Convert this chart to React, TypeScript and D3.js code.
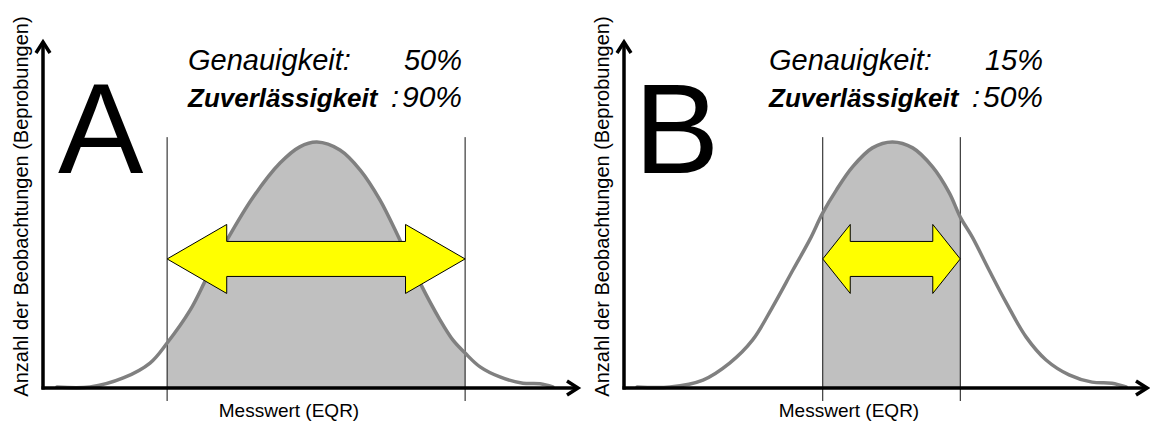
import * as d3 from "d3";
import { useMemo } from "react";

const width = 1150;
const height = 431;

// Messwert (abstract units 0..10) and Anzahl (abstract units 0..10)
const curveAx = [0.26, 0.88, 1.5, 2.0, 2.32, 2.75, 3.07, 3.44, 3.93, 4.43, 4.8, 5.12, 5.55, 5.93, 6.3, 6.67, 7.05, 7.42, 7.66, 7.89, 8.17, 8.54, 8.97, 9.29, 9.53];
const curveAy = [0.03, 0.03, 0.29, 0.72, 1.3, 2.25, 3.21, 4.28, 5.52, 6.5, 6.97, 7.11, 6.88, 6.3, 5.43, 4.28, 3.03, 1.97, 1.39, 1.01, 0.61, 0.32, 0.14, 0.12, 0.03];

const curveBx = [0.25, 0.88, 1.51, 2.02, 2.46, 2.84, 3.23, 3.55, 3.8, 4.06, 4.37, 4.75, 5.13, 5.52, 5.9, 6.22, 6.43, 6.66, 6.98, 7.31, 7.69, 8.07, 8.51, 8.95, 9.33, 9.6];
const curveBy = [0.03, 0.03, 0.23, 0.72, 1.39, 2.34, 3.41, 4.28, 5.06, 5.72, 6.39, 6.94, 7.11, 6.94, 6.39, 5.64, 4.94, 4.36, 3.41, 2.46, 1.47, 0.81, 0.38, 0.17, 0.14, 0.03];

const intervalA = [2.32, 7.89];
const intervalB = [3.8, 6.43];

const letters = ["A", "B"];
const genauigkeit = ["50%", "15%"];
const zuverlaessigkeit = ["90%", "50%"];
const arrowLevel = 3.73;
const lineTop = 7.25;

const yLabel = "Anzahl der Beobachtungen (Beprobungen)";
const xLabel = "Messwert (EQR)";

const font = "'Liberation Sans', Arial, Helvetica, sans-serif";

interface PanelProps {
  id: string;
  letter: string;
  xs: number[];
  ys: number[];
  interval: number[];
  gen: string;
  zuv: string;
  x0: number;
  x1: number;
  labelX: number;
}

const Panel = ({ id, letter, xs, ys, interval, gen, zuv, x0, x1, labelX }: PanelProps) => {
  const pts = useMemo(() => xs.map((x, i) => [x, ys[i]] as [number, number]), [xs, ys]);

  const x = d3.scaleLinear().domain([0, 10]).range([x0, x1]);
  const y = d3.scaleLinear().domain([0, 10]).range([388, 42]);

  const line = d3
    .line<[number, number]>()
    .x((d) => x(d[0]))
    .y((d) => y(d[1]))
    .curve(d3.curveCatmullRom);

  const area = d3
    .area<[number, number]>()
    .x((d) => x(d[0]))
    .y0(y(0))
    .y1((d) => y(d[1]))
    .curve(d3.curveCatmullRom);

  const xl = x(interval[0]);
  const xr = x(interval[1]);
  const yc = y(arrowLevel);
  const head = 0.2 * (xr - xl);
  const hh = 34.5;
  const sh = 17.5;
  const arrow = [
    [xl, yc],
    [xl + head, yc - hh],
    [xl + head, yc - sh],
    [xr - head, yc - sh],
    [xr - head, yc - hh],
    [xr, yc],
    [xr - head, yc + hh],
    [xr - head, yc + sh],
    [xl + head, yc + sh],
    [xl + head, yc + hh],
  ];
  const arrowPath = "M" + arrow.map((p) => p.join(",")).join("L") + "Z";

  const axisY = y(0);
  const axisTop = y(10);

  return (
    <g>
      <defs>
        <clipPath id={`clip-${id}`}>
          <rect x={xl} y={0} width={xr - xl} height={height} />
        </clipPath>
      </defs>

      <path d={area(pts) as string} fill="#c0c0c0" clipPath={`url(#clip-${id})`} />

      {interval.map((v, i) => (
        <line
          key={i}
          x1={x(v)}
          x2={x(v)}
          y1={y(lineTop)}
          y2={axisY + 13}
          stroke="#111"
          strokeWidth={1}
        />
      ))}

      <path d={line(pts) as string} fill="none" stroke="#808080" strokeWidth={3.5} strokeLinejoin="round" strokeLinecap="round" />

      {/* axes */}
      <line x1={x0} x2={x0} y1={axisY + 1.5} y2={axisTop} stroke="#000" strokeWidth={3.5} />
      <polyline
        points={`${x0 - 7},${axisTop + 11} ${x0},${axisTop} ${x0 + 7},${axisTop + 11}`}
        fill="none"
        stroke="#000"
        strokeWidth={3.5}
      />
      <line x1={x0 - 1.5} x2={x1} y1={axisY} y2={axisY} stroke="#000" strokeWidth={3.5} />
      <polyline
        points={`${x1 - 11},${axisY - 7} ${x1},${axisY} ${x1 - 11},${axisY + 7}`}
        fill="none"
        stroke="#000"
        strokeWidth={3.5}
      />

      <path d={arrowPath} fill="#ffff00" stroke="#000" strokeWidth={1} strokeLinejoin="miter" />

      <text
        transform={`translate(${x0 - 15},206.5) rotate(-90)`}
        textAnchor="middle"
        fontFamily={font}
        fontSize={20}
        fill="#000"
      >
        {yLabel}
      </text>
      <text x={labelX} y={417} textAnchor="middle" fontFamily={font} fontSize={19} fill="#000">
        {xLabel}
      </text>

      <text x={x0 + (letter === "A" ? 15 : 10)} y={173} fontFamily={font} fontSize={128} fill="#000">
        {letter}
      </text>

      <text x={x0 + 145} y={70} fontFamily={font} fontSize={29} fontStyle="italic" fill="#000">
        Genauigkeit:
      </text>
      <text x={x0 + 419} y={70} fontFamily={font} fontSize={29} fontStyle="italic" textAnchor="end" fill="#000">
        {gen}
      </text>
      <text x={x0 + 145} y={107} fontFamily={font} fontSize={26} fontStyle="italic" fontWeight="bold" fill="#000">
        Zuverlässigkeit
      </text>
      <text x={x0 + 348} y={107} fontFamily={font} fontSize={29} fontStyle="italic" fill="#000">
        :
      </text>
      <text x={x0 + 419} y={107} fontFamily={font} fontSize={30} fontStyle="italic" textAnchor="end" fill="#000">
        {zuv}
      </text>
    </g>
  );
};

const App = () => {
  return (
    <div style={{ position: "absolute", left: 0, top: 0 }}>
      <svg width={width} height={height} viewBox={`0 0 ${width} ${height}`} style={{ display: "block", background: "#fff" }}>
        <rect width={width} height={height} fill="#fff" />
        <Panel
          id="a"
          letter={letters[0]}
          xs={curveAx}
          ys={curveAy}
          interval={intervalA}
          gen={genauigkeit[0]}
          zuv={zuverlaessigkeit[0]}
          x0={43}
          x1={578}
          labelX={289}
        />
        <Panel
          id="b"
          letter={letters[1]}
          xs={curveBx}
          ys={curveBy}
          interval={intervalB}
          gen={genauigkeit[1]}
          zuv={zuverlaessigkeit[1]}
          x0={624}
          x1={1147}
          labelX={849}
        />
      </svg>
    </div>
  );
};

export default App;
